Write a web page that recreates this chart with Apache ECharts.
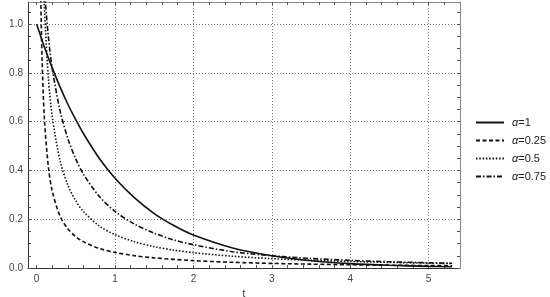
<!DOCTYPE html>
<html>
<head>
<meta charset="utf-8">
<script src="https://cdn.jsdelivr.net/npm/echarts@6/dist/echarts.min.js"></script>
<style>
  html, body { margin: 0; padding: 0; background: #fff; }
  #chart { width: 550px; height: 297px; }
</style>
</head>
<body>
<div id="chart"></div>
<script>
// values
const tA1 = [0, 0.1, 0.2, 0.3, 0.4, 0.5, 0.6, 0.8, 1, 1.25, 1.5, 1.75, 2, 2.5, 3, 3.5, 4, 4.5, 5, 5.3];
const phiA1 = [1, 0.905, 0.819, 0.741, 0.670, 0.607, 0.549, 0.449, 0.368, 0.287, 0.223, 0.174, 0.135, 0.082, 0.050, 0.030, 0.018, 0.011, 0.0067, 0.005];

const tA025 = [0.04, 0.05, 0.07, 0.1, 0.15, 0.2, 0.3, 0.4, 0.5, 0.6, 0.8, 1, 1.25, 1.5, 2, 2.5, 3, 3.5, 4, 4.5, 5, 5.3];
const phiA025 = [1.424, 1.160, 0.850, 0.609, 0.414, 0.314, 0.212, 0.160, 0.128, 0.107, 0.080, 0.064, 0.0505, 0.0415, 0.0302, 0.0233, 0.0188, 0.0157, 0.0133, 0.0115, 0.0100, 0.0094];

const tA05 = [0.06, 0.08, 0.1, 0.15, 0.2, 0.3, 0.4, 0.5, 0.6, 0.8, 1, 1.25, 1.5, 1.75, 2, 2.5, 3, 3.5, 4, 4.5, 5, 5.3];
const phiA05 = [1.529, 1.248, 1.0605, 0.778, 0.618, 0.438, 0.3385, 0.2747, 0.2303, 0.1725, 0.1366, 0.1073, 0.0875, 0.0733, 0.0627, 0.0481, 0.0383, 0.0316, 0.0267, 0.0230, 0.0200, 0.0186];

const tA075 = [0.08, 0.1, 0.15, 0.2, 0.3, 0.4, 0.5, 0.6, 0.8, 1, 1.25, 1.5, 1.75, 2, 2.5, 3, 3.5, 4, 4.5, 5, 5.3];
const phiA075 = [1.250, 1.139, 0.947, 0.816, 0.643, 0.5285, 0.446, 0.383, 0.293, 0.232, 0.1795, 0.1426, 0.115, 0.0955, 0.0668, 0.0502, 0.0391, 0.0312, 0.0255, 0.0213, 0.0192];

const xLabels = [0, 1, 2, 3, 4, 5];
const xGrid = [1, 2, 3, 4, 5];
const xMinor = [0, 0.2, 0.4, 0.6, 0.8, 1, 1.2, 1.4, 1.6, 1.8, 2, 2.2, 2.4, 2.6, 2.8, 3, 3.2, 3.4, 3.6, 3.8, 4, 4.2, 4.4, 4.6, 4.8, 5, 5.2];
const yLabels = [0, 0.2, 0.4, 0.6, 0.8, 1.0];
const yGrid = [0.2, 0.4, 0.6, 0.8, 1.0];
const yMinor = [0, 0.05, 0.1, 0.15, 0.2, 0.25, 0.3, 0.35, 0.4, 0.45, 0.5, 0.55, 0.6, 0.65, 0.7, 0.75, 0.8, 0.85, 0.9, 0.95, 1.0, 1.05];

const X_MIN = -0.11, X_MAX = 5.4;
const Y_MIN = 0, Y_MAX = 1.09;

let myChart = echarts.init(document.getElementById("chart"), null, { renderer: "canvas" });

const pairs = (ts, vs) => ts.map((t, i) => [t, vs[i]]);
const font = "'Liberation Sans', Arial, sans-serif";

function frameX(pos, lineColor, showLabels) {
  return {
    type: "value", position: pos, min: X_MIN, max: X_MAX,
    axisLine: { show: true, onZero: false, lineStyle: { color: lineColor, width: 1 } },
    axisTick: { show: true, inside: true, length: 3, customValues: xMinor, lineStyle: { color: "#555" } },
    axisLabel: {
      show: showLabels, customValues: xLabels, margin: 6,
      fontSize: 10, color: "#444", fontFamily: font,
      formatter: v => String(Math.round(v))
    },
    splitLine: { show: false }
  };
}
function frameY(pos, lineColor, showLabels) {
  return {
    type: "value", position: pos, min: Y_MIN, max: Y_MAX,
    axisLine: { show: true, onZero: false, lineStyle: { color: lineColor, width: 1 } },
    axisTick: { show: true, inside: true, length: 3, customValues: yMinor, lineStyle: { color: "#555" } },
    axisLabel: {
      show: showLabels, customValues: yLabels, margin: 5,
      fontSize: 10, color: "#444", fontFamily: font,
      formatter: v => v.toFixed(1)
    },
    splitLine: { show: false }
  };
}

let xMain = frameX("bottom", "#333", true);
xMain.name = "t";
xMain.nameLocation = "middle";
xMain.nameGap = 14;
xMain.nameTextStyle = { fontSize: 10, color: "#333", fontFamily: font };

let yMain = frameY("left", "#333", true);
yMain.name = "\u2014\u03A6(t)";
yMain.nameLocation = "middle";
yMain.nameGap = 20;
yMain.nameTextStyle = { fontSize: 10, color: "#333", fontFamily: font };

const gridLineStyle = { color: "#777", width: 1, type: [1, 2] };

let option = {
  backgroundColor: "#fff",
  animation: false,
  grid: { left: 28, right: 90, top: 2, bottom: 29, containLabel: false, outerBoundsMode: "none" },
  legend: {
    orient: "vertical",
    left: 475, top: 117, padding: 0,
    itemWidth: 28, itemHeight: 8, itemGap: 7,
    itemStyle: { opacity: 0 },
    textStyle: {
      fontSize: 11, color: "#222", fontFamily: font, padding: [0, 0, 0, 3],
      rich: { i: { fontStyle: "italic", fontSize: 11, color: "#222", fontFamily: font } }
    },
    formatter: name => "{i|\u03B1}" + name.slice(1)
  },
  xAxis: [
    xMain,
    frameX("top", "#888", false),
    {
      type: "value", position: "bottom", min: X_MIN, max: X_MAX,
      axisLine: { show: false }, axisLabel: { show: false },
      axisTick: { show: false, customValues: xGrid },
      splitLine: { show: true, lineStyle: gridLineStyle }
    }
  ],
  yAxis: [
    yMain,
    frameY("right", "#888", false),
    {
      type: "value", position: "left", min: Y_MIN, max: Y_MAX,
      axisLine: { show: false }, axisLabel: { show: false },
      axisTick: { show: false, customValues: yGrid },
      splitLine: { show: true, lineStyle: gridLineStyle }
    }
  ],
  series: [
    {
      name: "α=1", type: "line", symbol: "none", smooth: 0.3,
      data: pairs(tA1, phiA1),
      lineStyle: { color: "#111", width: 1.6, type: "solid" }, itemStyle: { color: "#111" }
    },
    {
      name: "α=0.25", type: "line", symbol: "none", smooth: 0.3,
      data: pairs(tA025, phiA025),
      lineStyle: { color: "#111", width: 1.6, type: [4, 2.5] }, itemStyle: { color: "#111" }
    },
    {
      name: "α=0.5", type: "line", symbol: "none", smooth: 0.3,
      data: pairs(tA05, phiA05),
      lineStyle: { color: "#111", width: 1.6, type: [1.5, 1.8] }, itemStyle: { color: "#111" }
    },
    {
      name: "α=0.75", type: "line", symbol: "none", smooth: 0.3,
      data: pairs(tA075, phiA075),
      lineStyle: { color: "#111", width: 1.6, type: [5, 2, 1.5, 2] }, itemStyle: { color: "#111" }
    }
  ]
};

if (option && typeof option === "object") {
  myChart.setOption(option);
}
window.addEventListener("resize", myChart.resize);
</script>
</body>
</html>
